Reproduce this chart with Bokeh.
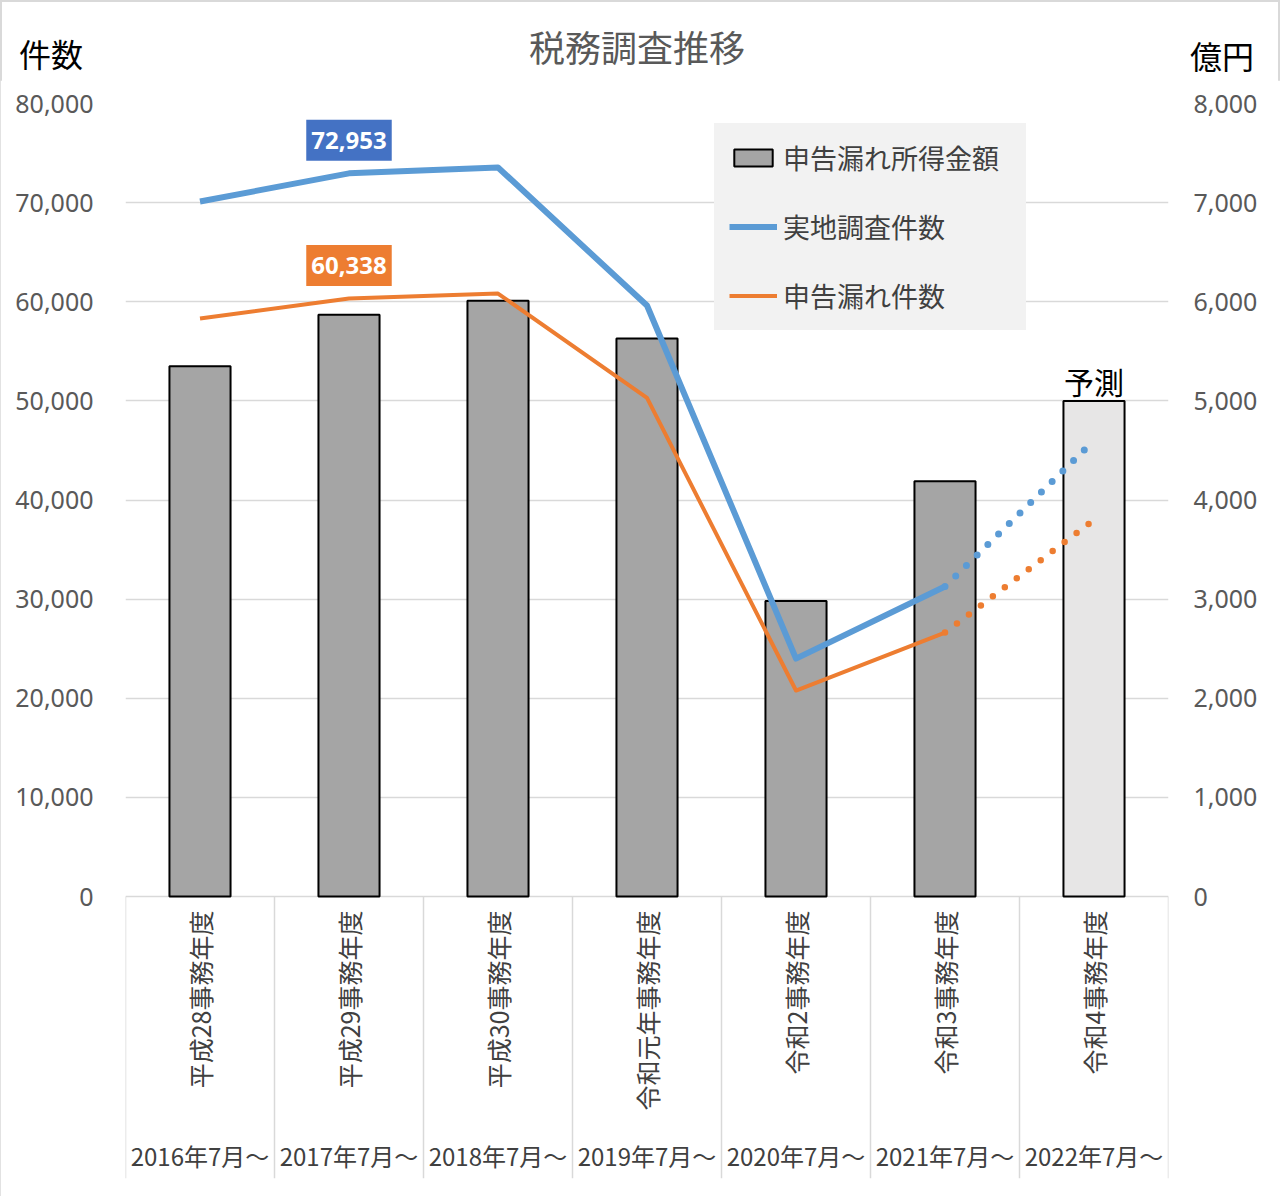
import math
from bokeh.plotting import figure
from bokeh.layouts import column
from bokeh.models import (Range1d, LinearAxis, FixedTicker, NumeralTickFormatter,
                          Legend, LegendItem, Label, Div)
from bokeh.core.properties import value
from bokeh.embed import file_html
from bokeh.resources import INLINE

# ---------------- data ----------------
title_text = "税務調査推移"
left_unit = "件数"
right_unit = "億円"
categories = ["平成28事務年度", "平成29事務年度", "平成30事務年度", "令和元年事務年度",
              "令和2事務年度", "令和3事務年度", "令和4事務年度"]
periods = ["2016年7月～", "2017年7月～", "2018年7月～", "2019年7月～",
           "2020年7月～", "2021年7月～", "2022年7月～"]
amount_oku = [5350, 5870, 6010, 5630, 2980, 4190, 5000]      # 申告漏れ所得金額（億円）, last = 予測
field_count = [70110, 72953, 73550, 59620, 24000, 31270]     # 実地調査件数
omission_count = [58310, 60338, 60830, 50300, 20780, 26630]  # 申告漏れ件数
field_forecast = 46000
omission_forecast = 38000
left_ticks = [0, 10000, 20000, 30000, 40000, 50000, 60000, 70000, 80000]
right_ticks = [0, 1000, 2000, 3000, 4000, 5000, 6000, 7000, 8000]

# ---------------- geometry (page pixels) ----------------
W, H = 1280, 1196
HEAD = 80                                 # header strip height (title + units)
F_LEFT, F_RIGHT, F_TOP, F_BOTTOM = 125, 1168, 103, 1178
ZERO_PX = 896
u = 80000 / (ZERO_PX - F_TOP)             # data units per pixel (left axis)
y_start = -(F_BOTTOM - ZERO_PX) * u
n = len(categories)
centers = [i + 0.5 for i in range(n)]
bounds = list(range(n + 1))

JP_NAME = "Noto Sans CJK JP"
NUM_NAME = "Noto Sans"
JP = value(JP_NAME)
GRID = "#d9d9d9"
BLUE = "#5b9bd5"
ORANGE = "#ed7d31"

# ---------------- header ----------------
header_html = f"""
<div style="position:relative;width:{W}px;height:{HEAD}px;font-family:'{JP_NAME}',sans-serif;">
  <span style="position:absolute;left:19px;top:37px;font-size:32px;line-height:32px;color:#000;white-space:nowrap;">{left_unit}</span>
  <span style="position:absolute;left:637px;top:28px;transform:translateX(-50%);font-size:36px;line-height:36px;color:#595959;white-space:nowrap;">{title_text}</span>
  <span style="position:absolute;left:1190px;top:39px;font-size:32px;line-height:32px;color:#000;white-space:nowrap;">{right_unit}</span>
</div>
"""
header = Div(text=header_html, width=W, height=HEAD, margin=0)

# ---------------- figure ----------------
p = figure(width=W, height=H - HEAD, x_range=Range1d(0, n), y_range=Range1d(y_start, 80000),
           output_backend="svg", toolbar_location=None,
           min_border_left=F_LEFT, min_border_right=W - F_RIGHT,
           min_border_top=F_TOP - HEAD, min_border_bottom=H - F_BOTTOM,
           x_axis_location=None, margin=0)
p.title.visible = False
p.outline_line_color = None
p.background_fill_color = "white"
p.border_fill_color = "white"
p.extra_y_ranges = {"amt": Range1d(y_start / 10, 8000)}

# axes
ax = p.yaxis[0]
ax.ticker = FixedTicker(ticks=left_ticks)
ax.formatter = NumeralTickFormatter(format="0,0")
ax2 = LinearAxis(y_range_name="amt", ticker=FixedTicker(ticks=right_ticks),
                 formatter=NumeralTickFormatter(format="0,0"))
p.add_layout(ax2, "right")
for a, st in ((ax, 32), (ax2, 25)):
    a.axis_line_color = None
    a.major_tick_line_color = None
    a.minor_tick_line_color = None
    a.major_tick_out = 0
    a.major_tick_in = 0
    a.major_label_standoff = st
    a.major_label_text_font = NUM_NAME
    a.major_label_text_font_size = "25px"
    a.major_label_text_color = "#595959"

p.xgrid.visible = False
p.ygrid.ticker = FixedTicker(ticks=left_ticks)
p.ygrid.grid_line_color = GRID
p.ygrid.grid_line_width = 1.5

# category separators in the axis area
p.segment(x0=bounds, y0=[0] * len(bounds), x1=bounds, y1=[y_start] * len(bounds),
          line_color=GRID, line_width=1.5)

# bars
bar_colors = ["#a5a5a5"] * (n - 1) + ["#e7e6e6"]
bars = p.vbar(x=centers, top=amount_oku, bottom=0, width=0.41, y_range_name="amt",
              fill_color=bar_colors, line_color="black", line_width=2)

# lines
l_field = p.line(centers[:len(field_count)], field_count, line_color=BLUE, line_width=6,
                 line_join="round")
l_om = p.line(centers[:len(omission_count)], omission_count, line_color=ORANGE, line_width=4,
              line_join="round")
p.line([centers[len(field_count) - 1], centers[-1]], [field_count[-1], field_forecast],
       line_color=BLUE, line_width=7, line_dash="0 15", line_cap="round")
p.line([centers[len(omission_count) - 1], centers[-1]], [omission_count[-1], omission_forecast],
       line_color=ORANGE, line_width=6.5, line_dash="0 15", line_cap="round")

# category labels (rotated) and period labels
p.text(x=centers, y=[-14 * u] * n, text=categories, angle=math.pi / 2,
       text_align="right", text_baseline="middle", text_font=JP,
       text_font_size="25px", text_color="#404040")
p.text(x=centers, y=[-(1155 - ZERO_PX) * u] * n, text=periods,
       text_align="center", text_baseline="middle", text_font=JP,
       text_font_size="24px", text_color="#404040")

# data labels
p.add_layout(Label(x=centers[1], y=field_count[1], text=f"{field_count[1]:,}",
                   text_align="center", text_baseline="middle", y_offset=33,
                   text_font=NUM_NAME, text_font_style="bold", text_font_size="24px",
                   text_color="white", background_fill_color="#4472c4",
                   background_fill_alpha=1, padding=(5, 12)))
p.add_layout(Label(x=centers[1], y=omission_count[1], text=f"{omission_count[1]:,}",
                   text_align="center", text_baseline="middle", y_offset=33,
                   text_font=NUM_NAME, text_font_style="bold", text_font_size="24px",
                   text_color="white", background_fill_color=ORANGE,
                   background_fill_alpha=1, padding=(5, 12)))
p.add_layout(Label(x=centers[-1], y=amount_oku[-1], y_range_name="amt", text="予測",
                   text_align="center", text_baseline="middle", y_offset=20,
                   text_font=JP_NAME, text_font_size="30px", text_color="black"))

# legend
legend = Legend(items=[LegendItem(label="申告漏れ所得金額", renderers=[bars], index=0),
                       LegendItem(label="実地調査件数", renderers=[l_field]),
                       LegendItem(label="申告漏れ件数", renderers=[l_om])],
                location=(714 - F_LEFT, F_BOTTOM - 330),
                background_fill_color="#f2f2f2", background_fill_alpha=1,
                border_line_color="#f2f2f2", border_line_width=1,
                label_text_font=JP_NAME, label_text_font_size="27px",
                label_text_color="#404040", glyph_width=48, glyph_height=21,
                label_height=38, label_width=228, spacing=30, padding=14, margin=0,
                label_standoff=6)
p.add_layout(legend)

layout = column(header, p, spacing=0, margin=0)
layout.styles = {"outline": "2px solid #d9d9d9", "outline-offset": "-2px"}
open("out.html", "w").write(file_html(layout, INLINE))
